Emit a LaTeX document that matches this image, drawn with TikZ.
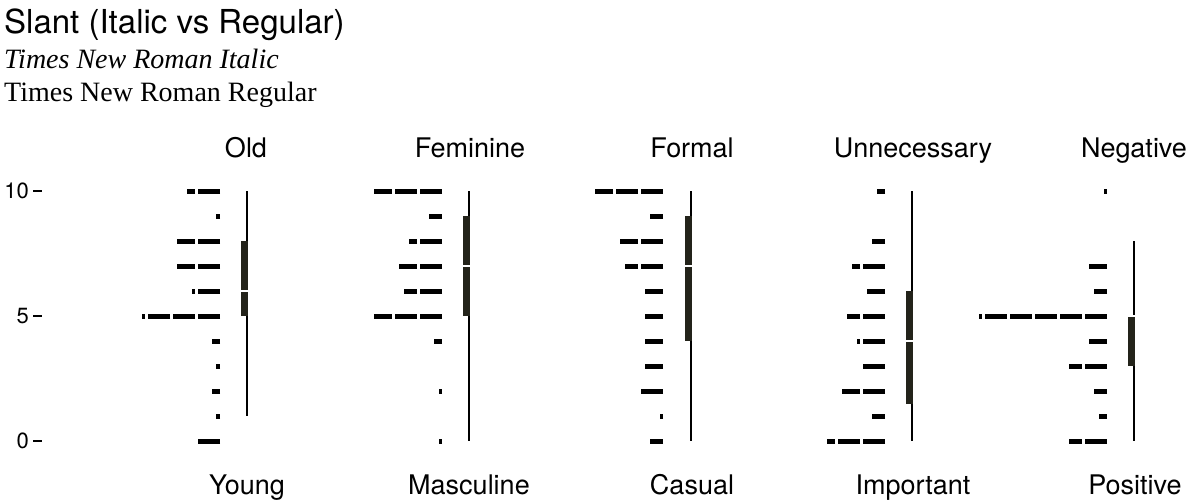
\documentclass[tikz,border=0pt]{standalone}
\usepackage{fontspec}
\setmainfont{TeX Gyre Heros}
\newfontfamily\tnr{Liberation Serif}
\definecolor{boxc}{HTML}{23231A}
\begin{document}
\begin{tikzpicture}[x=1pt,y=-1pt,
  bar/.style={line width=5pt,dash pattern=on 21.7pt off 3.3pt},
  lab/.style={font=\fontsize{27}{30}\selectfont,inner sep=0pt,anchor=base},
  whisk/.style={line width=2.2pt},
  tk/.style={line width=1.5pt}]
\useasboundingbox (0,0) rectangle (1200,501);
\node[anchor=base west,inner sep=0pt,font=\fontsize{33}{36}\selectfont] (title) at (4,33) {Slant (Italic vs Regular)};
\node[anchor=base west,inner sep=0pt,font=\fontsize{28}{30}\selectfont\tnr\itshape] (it) at (4,68) {Times New Roman Italic};
\node[anchor=base west,inner sep=0pt,font=\fontsize{28}{30}\selectfont\tnr] (rg) at (4,101) {Times New Roman Regular};
% axis
\foreach \v/\t in {10/10,5/5,0/0}{
  \node[inner sep=0pt,anchor=east,font=\fontsize{22}{24}\selectfont] (ax\v) at (29,441-25*\v) {\t};
  \draw[tk] (33,441-25*\v) -- (42,441-25*\v);
}
\newcommand{\panel}[8]{%
 \foreach \len [count=\i from 0] in {#8}{
   \ifdim \len pt>0pt \draw[bar] (#1,441-25*10+25*\i) -- ++(-\len,0);\fi
 }
 \draw[whisk] (#2,441-25*#3) -- (#2,441-25*#4);
 \fill[boxc] (#2-6.5,441-25*#5) rectangle (#2+1.1,441-25*#6);
 \draw[white,line width=2pt] (#2-7.5,441-25*#7) -- (#2+2,441-25*#7);
}
\panel{220}{247}{10}{1}{8}{5}{6}{33,4,43,43,28,78,8,4,8,4,22}
\panel{442}{469}{10}{0}{9}{5}{7}{68,13,33,43,38,68,8,0,3,0,3}
\panel{663}{691}{10}{0}{9}{4}{7}{68,13,43,38,18,18,18,18,22,3,13}
\panel{885}{912}{10}{0}{6}{1.5}{4}{8,0,13,33,18,38,28,22,43,13,58}
\panel{1107}{1134}{8}{0}{5}{3}{5}{3,0,0,18,13,128,18,38,13,8,38}
\node[lab] (t1) at (246,157) {Old};
\node[lab] (t2) at (470,157) {Feminine};
\node[lab] (t3) at (692,157) {Formal};
\node[lab] (t4) at (913,157) {Unnecessary};
\node[lab] (t5) at (1134,157) {Negative};
\node[lab] (b1) at (247,494) {Young};
\node[lab] (b2) at (469,494) {Masculine};
\node[lab] (b3) at (692,494) {Casual};
\node[lab] (b4) at (913,494) {Important};
\node[lab] (b5) at (1135,494) {Positive};
\end{tikzpicture}
\end{document}
